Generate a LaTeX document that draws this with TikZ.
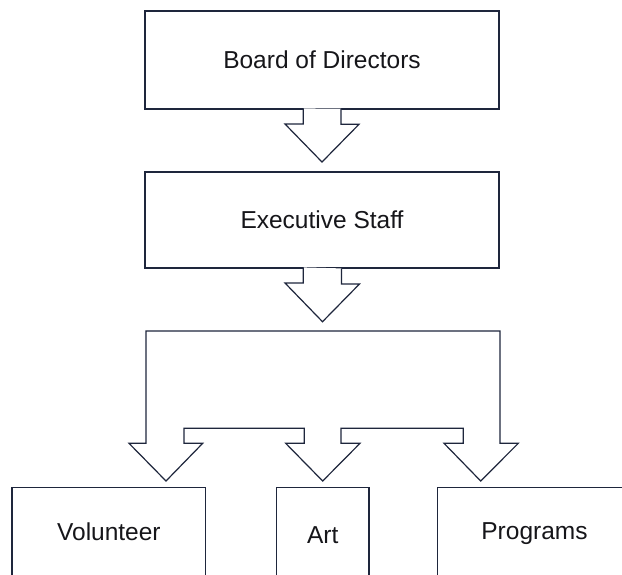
\documentclass[tikz,border=0pt]{standalone}
\usepackage{fontspec}
\setmainfont{Liberation Sans}
\usetikzlibrary{positioning, calc}
\definecolor{inkline}{RGB}{30,38,60}
\definecolor{inktext}{RGB}{22,22,26}
\tikzset{
	unitbox/.style={shape=rectangle, draw=inkline, line width=1.2pt, outer sep=0pt, inner sep=0pt, text=inktext, font=\fontsize{24.5}{29}\selectfont, text height=17pt, text depth=0pt},
	blockarrow/.style={draw=inkline, fill=white, line width=1.2pt, line join=miter}
}
\begin{document}
\begin{tikzpicture}[x=1pt,y=1pt]
	\useasboundingbox[fill=white] (0,0) rectangle (622,-574);
	\clip (0,0) rectangle (622,-574);

	\node[unitbox, minimum width=354pt, minimum height=98pt] (board) at (322,-60) {Board of Directors};
	\node[unitbox, minimum width=354pt, minimum height=96pt] (exec) at (322,-220) {Executive Staff};
	\node[unitbox, draw=none] (coord) at (323,-377) {Coordination Staff};
	\node[unitbox, minimum width=193.7pt, minimum height=89.4pt] (vol) at (108.9,-532) {Volunteer};
	\node[unitbox, minimum width=92.5pt, minimum height=96pt] (art) at (322.7,-535.3) {Art};
	\node[unitbox, minimum width=194.4pt, minimum height=100pt, text depth=12.6pt] (prog) at (534.5,-537.3) {Programs};

	% block arrows between the upper boxes
	\draw[blockarrow] ([xshift=-18.7pt,yshift=0.6pt]board.south) -- ++(0,-15.6) -- ++(-18.3,0)
		-- ([yshift=10pt]exec.north) -- ++(37,37.7) -- ++(-18,0) -- ++(0,15.6);
	\draw[blockarrow] ([xshift=-18.7pt,yshift=0.6pt]exec.south) -- ++(0,-15.6) -- ++(-18.3,0)
		-- (322.5,-321.7) -- ++(37,37.7) -- ++(-18,0) -- ++(0,15.6);

	% frame of the coordination staff, split into three arrows
	\draw[blockarrow] (184,-428.3) -- (304.3,-428.3) -- (304.3,-443.3) -- (285.7,-443.3)
		-- (322.7,-481) -- (360,-443.3) -- (341,-443.3) -- (341,-428.3) -- (463.3,-428.3)
		-- (463.3,-443.3) -- (444,-443.3) -- (480.7,-481) -- (518.3,-443.3) -- (500,-443.3)
		-- (500,-331) -- (146,-331) -- (146,-443.3) -- (129,-443.3) -- (166,-481)
		-- (202.7,-443.3) -- (184,-443.3) -- cycle;
\end{tikzpicture}
\end{document}
